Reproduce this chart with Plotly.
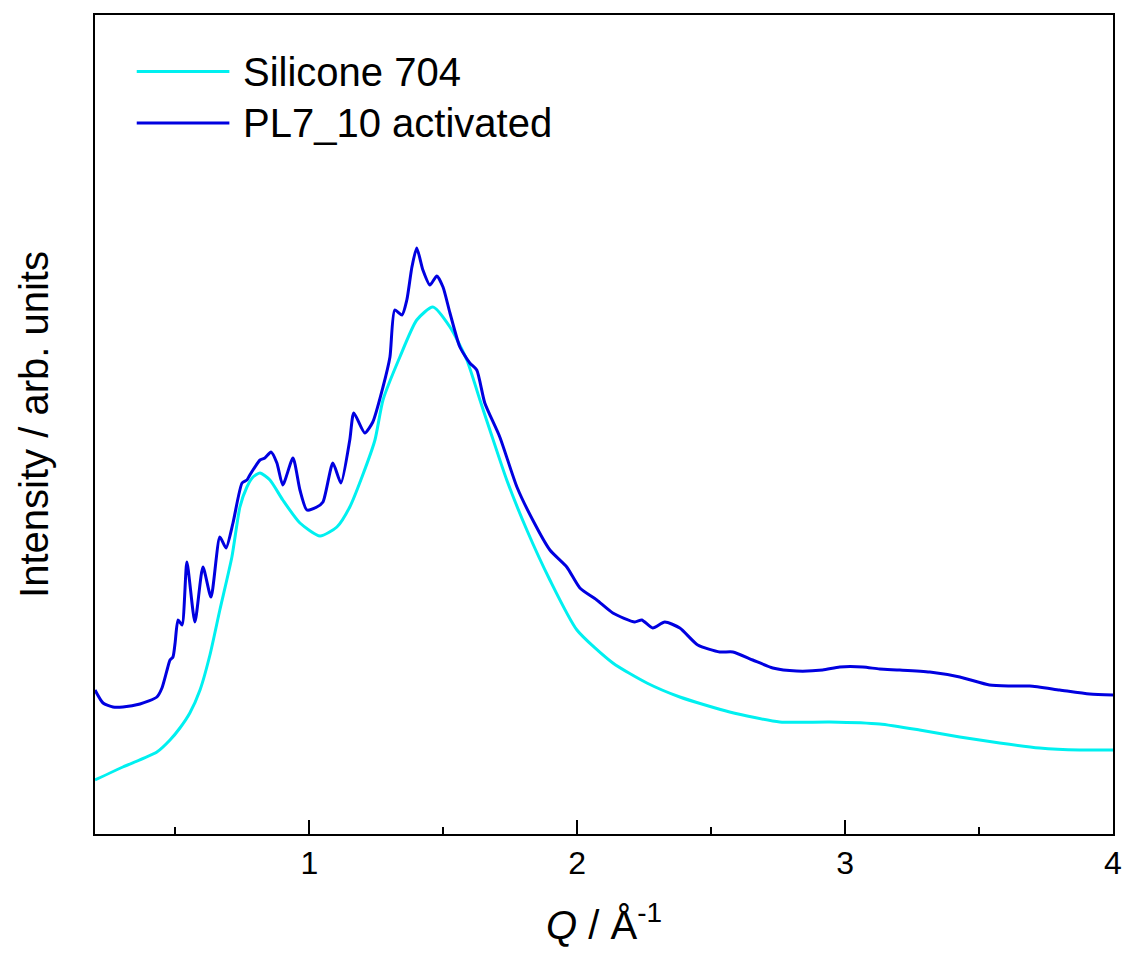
import plotly.graph_objects as go

# Silicone 704 reference scan
q_silicone = [0.200, 0.304, 0.431, 0.480, 0.517, 0.554, 0.592, 0.629, 0.666, 0.711,
              0.741, 0.767, 0.790, 0.816, 0.853, 0.901, 0.965, 1.040, 1.103, 1.151,
              1.198, 1.245, 1.275, 1.338, 1.401, 1.461, 1.525, 1.588, 1.637, 1.674,
              1.737, 1.812, 1.898, 1.999, 2.133, 2.260, 2.383, 2.569, 2.756, 2.943,
              3.129, 3.278, 3.428, 3.577, 3.726, 3.875, 4.000]
i_silicone = [0.54, 0.67, 0.82, 0.94, 1.06, 1.21, 1.44, 1.79, 2.24, 2.77,
              3.27, 3.47, 3.57, 3.61, 3.54, 3.34, 3.11, 2.98, 3.07, 3.27,
              3.58, 3.94, 4.34, 4.77, 5.14, 5.27, 5.07, 4.74, 4.34, 4.04,
              3.54, 3.04, 2.54, 2.04, 1.71, 1.51, 1.37, 1.22, 1.12, 1.12,
              1.10, 1.04, 0.97, 0.91, 0.86, 0.84, 0.84]

# PL7_10 activated sample
q_pl7 = [0.200, 0.230, 0.267, 0.304, 0.368, 0.431, 0.450, 0.469, 0.480, 0.491,
         0.499, 0.510, 0.525, 0.543, 0.573, 0.603, 0.633, 0.666, 0.689, 0.715,
         0.749, 0.767, 0.778, 0.816, 0.834, 0.857, 0.879, 0.901, 0.939, 0.965,
         0.991, 1.028, 1.051, 1.088, 1.118, 1.151, 1.166, 1.207, 1.237, 1.275,
         1.301, 1.319, 1.346, 1.364, 1.383, 1.401, 1.424, 1.450, 1.476, 1.499,
         1.525, 1.562, 1.599, 1.625, 1.655, 1.711, 1.775, 1.834, 1.898, 1.961,
         2.010, 2.073, 2.133, 2.215, 2.241, 2.282, 2.327, 2.383, 2.450, 2.532,
         2.581, 2.655, 2.730, 2.819, 2.916, 2.980, 3.066, 3.129, 3.204, 3.316,
         3.428, 3.539, 3.614, 3.689, 3.801, 3.913, 4.000]
i_pl7 = [1.44, 1.31, 1.27, 1.27, 1.30, 1.37, 1.46, 1.64, 1.74, 1.77,
         1.91, 2.14, 2.09, 2.72, 2.12, 2.67, 2.37, 2.97, 2.86, 3.11,
         3.51, 3.54, 3.59, 3.74, 3.76, 3.82, 3.71, 3.49, 3.76, 3.44,
         3.24, 3.27, 3.32, 3.71, 3.51, 3.94, 4.21, 4.01, 4.12, 4.47,
         4.77, 5.24, 5.19, 5.34, 5.67, 5.86, 5.64, 5.49, 5.58, 5.47,
         5.21, 4.87, 4.71, 4.64, 4.31, 3.97, 3.47, 3.14, 2.84, 2.67,
         2.46, 2.34, 2.21, 2.12, 2.14, 2.06, 2.12, 2.06, 1.89, 1.82,
         1.82, 1.74, 1.66, 1.63, 1.64, 1.67, 1.67, 1.65, 1.64, 1.62,
         1.57, 1.49, 1.48, 1.48, 1.44, 1.40, 1.39]

series_names = ["Silicone 704", "PL7_10 activated"]
series_colors = ["#00f0f0", "#0000e0"]

x_ticks = [1, 2, 3, 4]
x_tick_text = ["1", "2", "3", "4"]

FONT = "Liberation Sans, Arial, sans-serif"

fig = go.Figure()
for q, inten, name, color in zip([q_silicone, q_pl7], [i_silicone, i_pl7],
                                  series_names, series_colors):
    fig.add_trace(go.Scatter(
        x=q, y=inten, mode="lines", name=name, showlegend=False,
        line=dict(color=color, width=3, shape="spline", smoothing=0.6),
    ))

# Hand-drawn legend in the upper-left corner of the frame
legend_y = [0.931, 0.868]
for name, color, ly in zip(series_names, series_colors, legend_y):
    fig.add_shape(type="line", xref="paper", yref="paper",
                  x0=0.041, x1=0.132, y0=ly, y1=ly,
                  line=dict(color=color, width=3))
    fig.add_annotation(xref="paper", yref="paper", x=0.143, y=ly,
                       text=name, showarrow=False, xanchor="left", yanchor="middle",
                       font=dict(family=FONT, size=40, color="black"))

# Axis title for Q, below the tick labels
fig.add_annotation(xref="paper", yref="paper", x=0.5, y=-0.107,
                   text="<i>Q</i> / Å<sup>-1</sup>", showarrow=False,
                   xanchor="center", yanchor="middle",
                   font=dict(family=FONT, size=40, color="black"))

fig.update_xaxes(
    range=[0.2, 4.0],
    tickmode="array", tickvals=x_ticks, ticktext=x_tick_text,
    ticks="inside", ticklen=14, tickwidth=2, tickcolor="black",
    ticklabeloverflow="allow",
    minor=dict(tickmode="array", tickvals=[0.5, 1.5, 2.5, 3.5],
               ticks="inside", ticklen=7, tickwidth=2, tickcolor="black"),
    showline=True, linewidth=2, linecolor="black", mirror=True,
    showgrid=False, zeroline=False,
    tickfont=dict(family=FONT, size=32, color="black"),
)
fig.update_yaxes(
    range=[0, 8.19],
    showticklabels=False, ticks="",
    showline=True, linewidth=2, linecolor="black", mirror=True,
    showgrid=False, zeroline=False,
    title=dict(text="Intensity / arb. units", standoff=32,
               font=dict(family=FONT, size=40, color="black")),
)
fig.update_layout(
    width=1128, height=954,
    margin=dict(l=95, r=6, t=15, b=120),
    paper_bgcolor="white", plot_bgcolor="white",
    font=dict(family=FONT, color="black"),
)

fig.write_html("out.html")
